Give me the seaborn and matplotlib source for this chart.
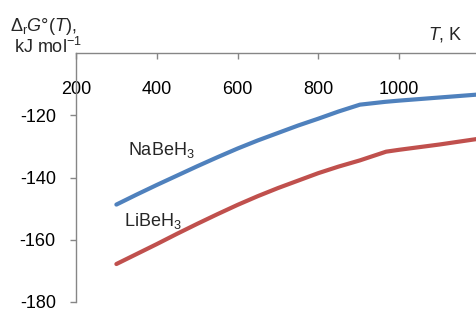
import numpy as np
import pandas as pd
import matplotlib
matplotlib.use("Agg")
import matplotlib.pyplot as plt
import seaborn as sns

# Data
T_na = [300, 350, 400, 450, 500, 550, 600, 650, 700, 750, 800, 850, 903, 965, 1000, 1100, 1200]
G_na = [-148.7, -145.5, -142.4, -139.4, -136.4, -133.5, -130.7, -128.1, -125.7, -123.3, -121.1, -118.8, -116.6,
        -115.7, -115.3, -114.3, -113.3]
T_li = [300, 350, 400, 450, 500, 550, 600, 650, 700, 750, 800, 850, 903, 968, 1000, 1100, 1200]
G_li = [-167.8, -164.6, -161.4, -158.1, -154.9, -151.8, -148.8, -146.0, -143.4, -141.0, -138.6, -136.5, -134.5,
        -131.7, -131.1, -129.4, -127.5]
series_names = ["NaBeH$_3$", "LiBeH$_3$"]
x_ticks = [200, 400, 600, 800, 1000]
y_ticks = [-120, -140, -160, -180]

sns.set_theme(style="white")
plt.rcParams["font.family"] = ["Liberation Sans", "DejaVu Sans"]
plt.rcParams["mathtext.fontset"] = "custom"
plt.rcParams["mathtext.rm"] = "Liberation Sans"
plt.rcParams["mathtext.it"] = "Liberation Sans:italic"
plt.rcParams["axes.unicode_minus"] = False

df = pd.DataFrame({
    "T": T_na + T_li,
    "G": G_na + G_li,
    "compound": [series_names[0]] * len(T_na) + [series_names[1]] * len(T_li),
})

W, H = 476, 312
fig = plt.figure(figsize=(W / 100, H / 100), dpi=100)
ax = fig.add_axes([76 / W, 1 - 302 / H, 1 - 76 / W, (302 - 53) / H])

sns.lineplot(data=df, x="T", y="G", hue="compound",
             palette=["#4F81BD", "#C0504D"], linewidth=3, ax=ax,
             legend=False, sort=False, estimator=None)

ax.set_xlim(200, 1190.5)
ax.set_ylim(-180, -100)
ax.set_xticks(x_ticks)
ax.set_yticks(y_ticks)
ax.set_xlabel("")
ax.set_ylabel("")

for s in ["right", "bottom"]:
    ax.spines[s].set_visible(False)
for s in ["left", "top"]:
    ax.spines[s].set_color("#868686")
    ax.spines[s].set_linewidth(1.0)

fs = 13
ax.tick_params(axis="x", top=True, bottom=False, labeltop=True, labelbottom=False,
               direction="in", length=4.5, width=1, color="#868686",
               pad=-32.5, labelsize=fs, labelcolor="black")
ax.tick_params(axis="y", left=True, direction="out", length=4.5, width=1,
               color="#868686", pad=10, labelsize=fs, labelcolor="black")

def ftext(x, y, s, **kw):
    fig.text(x / W, 1 - y / H, s, fontsize=fs, va="baseline", ha="left", **kw)

ftext(10, 31, r"$\Delta_\mathrm{r}G$°($T$),")
ftext(14, 53, r"kJ mol$^{-1}$")
ftext(428, 40, r"$T$, K")
ftext(128, 155, series_names[0])
ftext(124, 226, series_names[1])

fig.savefig("out.png", dpi=100)
